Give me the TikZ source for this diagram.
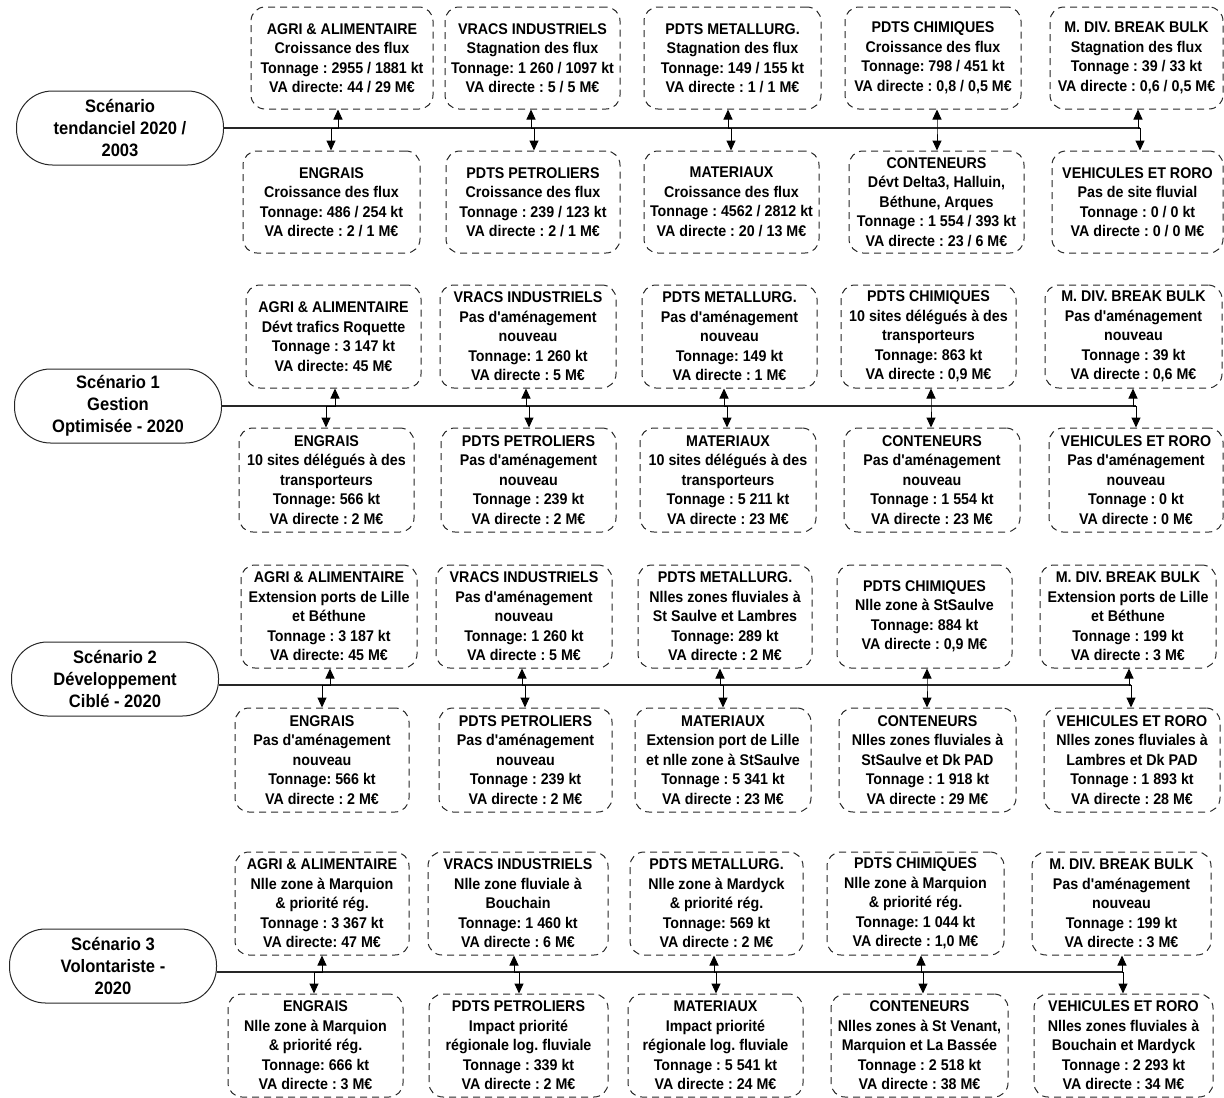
\documentclass[tikz,border=0pt]{standalone}
\usepackage{fontspec}
\setmainfont{Liberation Sans}[FakeStretch=0.92, Ligatures=TeXOff]
\usetikzlibrary{arrows.meta}
\tikzset{
  card/.style={draw=black!85, dashed, dash pattern=on 7pt off 5pt, line width=1pt,
    rounded corners=14pt, align=center, inner sep=0pt,
    font=\fontsize{15.5}{19.5}\selectfont\bfseries},
  scen/.style={draw=black!85, line width=1pt, rounded corners=36pt, align=center,
    inner sep=0pt, minimum width=207pt, minimum height=74pt,
    font=\fontsize{18}{22}\selectfont\bfseries},
  conn/.style={line width=1pt, {Triangle[length=10pt,width=9pt]}-{Triangle[length=10pt,width=9pt]}},
  mainline/.style={draw=black!85, line width=1.3pt}
}
\newcommand\mkcard[6]{\node[card, minimum width={#3-#2}, minimum height={#5-#4}] (#1) at ({(#2+#3)/2},{(#4+#5)/2}) {#6};}
\newcommand\mklink[5]{\draw[conn] (#1.south -| #3,0) -- (#3,#5) -- (#4,#5) -- (#2.north -| #4,0);}
\frenchspacing
\begin{document}
\begin{tikzpicture}[x=1pt,y=-1pt]
\useasboundingbox (0,0) rectangle (1224,1098);
% ---------------- Section 1
\node[scen] (s1) at (120,128) {Scénario\\tendanciel 2020 /\\2003};
\mkcard{a1}{251}{433}{7}{109}{AGRI \& ALIMENTAIRE\\Croissance des flux\\Tonnage : 2955 / 1881 kt\\VA directe: 44 / 29 M€}
\mkcard{a2}{445}{620}{7}{109}{VRACS INDUSTRIELS\\Stagnation des flux\\Tonnage: 1 260 / 1097 kt\\VA directe : 5 / 5 M€}
\mkcard{a3}{644}{821}{7}{109}{PDTS METALLURG.\\Stagnation des flux\\Tonnage: 149 / 155 kt\\VA directe : 1 / 1 M€}
\mkcard{a4}{845}{1021}{7}{109}{PDTS CHIMIQUES\\Croissance des flux\\Tonnage: 798 / 451 kt\\VA directe : 0,8 / 0,5 M€}
\mkcard{a5}{1050}{1223}{7}{109}{M. DIV. BREAK BULK\\Stagnation des flux\\Tonnage : 39 / 33 kt\\VA directe : 0,6 / 0,5 M€}
\mkcard{b1}{243}{420}{151}{253}{ENGRAIS\\Croissance des flux\\Tonnage: 486 / 254 kt\\VA directe : 2 / 1 M€}
\mkcard{b2}{446}{620}{151}{253}{PDTS PETROLIERS\\Croissance des flux\\Tonnage : 239 / 123 kt\\VA directe : 2 / 1 M€}
\mkcard{b3}{644}{819}{151}{253}{MATERIAUX\\Croissance des flux\\Tonnage : 4562 / 2812 kt\\VA directe : 20 / 13 M€}
\mkcard{b4}{849}{1024}{151}{253}{CONTENEURS\\Dévt Delta3, Halluin,\\Béthune, Arques\\Tonnage : 1 554 / 393 kt\\VA directe : 23 / 6 M€}
\mkcard{b5}{1052}{1223}{151}{253}{VEHICULES ET RORO\\Pas de site fluvial\\Tonnage : 0 / 0 kt\\VA directe : 0 / 0 M€}
\coordinate (e1) at (1140,128);
\draw[mainline] (s1.east |- e1) -- (e1);
\mklink{a1}{b1}{338}{331}{128}
\mklink{a2}{b2}{531}{534}{128}
\mklink{a3}{b3}{728}{731}{128}
\mklink{a4}{b4}{937}{937}{128}
\mklink{a5}{b5}{1138}{1140}{128}
% ---------------- Section 2
\node[scen] (s2) at (118,406) {Scénario 1\\Gestion\\Optimisée - 2020};
\mkcard{c1}{246}{421}{285}{388}{AGRI \& ALIMENTAIRE\\Dévt trafics Roquette\\Tonnage : 3 147 kt\\VA directe: 45 M€}
\mkcard{c2}{440}{616}{285}{388}{VRACS INDUSTRIELS\\Pas d'aménagement\\nouveau\\Tonnage: 1 260 kt\\VA directe : 5 M€}
\mkcard{c3}{642}{817}{285}{388}{PDTS METALLURG.\\Pas d'aménagement\\nouveau\\Tonnage: 149 kt\\VA directe : 1 M€}
\mkcard{c4}{841}{1016}{285}{388}{PDTS CHIMIQUES\\10 sites délégués à des\\transporteurs\\Tonnage: 863 kt\\VA directe : 0,9 M€}
\mkcard{c5}{1045}{1222}{285}{388}{M. DIV. BREAK BULK\\Pas d'aménagement\\nouveau\\Tonnage : 39 kt\\VA directe : 0,6 M€}
\mkcard{d1}{239}{414}{428}{532}{ENGRAIS\\10 sites délégués à des\\transporteurs\\Tonnage: 566 kt\\VA directe : 2 M€}
\mkcard{d2}{441}{616}{428}{532}{PDTS PETROLIERS\\Pas d'aménagement\\nouveau\\Tonnage : 239 kt\\VA directe : 2 M€}
\mkcard{d3}{640}{816}{428}{532}{MATERIAUX\\10 sites délégués à des\\transporteurs\\Tonnage : 5 211 kt\\VA directe : 23 M€}
\mkcard{d4}{844}{1020}{428}{532}{CONTENEURS\\Pas d'aménagement\\nouveau\\Tonnage : 1 554 kt\\VA directe : 23 M€}
\mkcard{d5}{1049}{1223}{428}{532}{VEHICULES ET RORO\\Pas d'aménagement\\nouveau\\Tonnage : 0 kt\\VA directe : 0 M€}
\coordinate (e2) at (1136,406);
\draw[mainline] (s2.east |- e2) -- (e2);
\mklink{c1}{d1}{335}{326}{406}
\mklink{c2}{d2}{526}{529}{406}
\mklink{c3}{d3}{724}{727}{406}
\mklink{c4}{d4}{931}{931}{406}
\mklink{c5}{d5}{1133}{1136}{406}
% ---------------- Section 3
\node[scen] (s3) at (115,679) {Scénario 2\\Développement\\Ciblé - 2020};
\mkcard{f1}{241}{417}{565}{668}{AGRI \& ALIMENTAIRE\\Extension ports de Lille\\et Béthune\\Tonnage : 3 187 kt\\VA directe: 45 M€}
\mkcard{f2}{436}{612}{565}{668}{VRACS INDUSTRIELS\\Pas d'aménagement\\nouveau\\Tonnage: 1 260 kt\\VA directe : 5 M€}
\mkcard{f3}{638}{812}{565}{668}{PDTS METALLURG.\\Nlles zones fluviales à\\St Saulve et Lambres\\Tonnage: 289 kt\\VA directe : 2 M€}
\mkcard{f4}{837}{1012}{565}{668}{PDTS CHIMIQUES\\Nlle zone à StSaulve\\Tonnage: 884 kt\\VA directe : 0,9 M€}
\mkcard{f5}{1040}{1216}{565}{668}{M. DIV. BREAK BULK\\Extension ports de Lille\\et Béthune\\Tonnage : 199 kt\\VA directe : 3 M€}
\mkcard{g1}{235}{409}{708}{812}{ENGRAIS\\Pas d'aménagement\\nouveau\\Tonnage: 566 kt\\VA directe : 2 M€}
\mkcard{g2}{439}{612}{708}{812}{PDTS PETROLIERS\\Pas d'aménagement\\nouveau\\Tonnage : 239 kt\\VA directe : 2 M€}
\mkcard{g3}{635}{811}{708}{812}{MATERIAUX\\Extension port de Lille\\et nlle zone à StSaulve\\Tonnage : 5 341 kt\\VA directe : 23 M€}
\mkcard{g4}{839}{1016}{708}{812}{CONTENEURS\\Nlles zones fluviales à\\StSaulve et Dk PAD\\Tonnage : 1 918 kt\\VA directe : 29 M€}
\mkcard{g5}{1044}{1220}{708}{812}{VEHICULES ET RORO\\Nlles zones fluviales à\\Lambres et Dk PAD\\Tonnage : 1 893 kt\\VA directe : 28 M€}
\coordinate (e3) at (1131,685);
\draw[mainline] (s3.east |- e3) -- (e3);
\mklink{f1}{g1}{330}{322}{685}
\mklink{f2}{g2}{522}{525}{685}
\mklink{f3}{g3}{720}{723}{685}
\mklink{f4}{g4}{927}{927}{685}
\mklink{f5}{g5}{1129}{1131}{685}
% ---------------- Section 4
\node[scen] (s4) at (113,966) {Scénario 3\\Volontariste -\\2020};
\mkcard{h1}{235}{409}{852}{955}{AGRI \& ALIMENTAIRE\\Nlle zone à Marquion\\\& priorité rég.\\Tonnage : 3 367 kt\\VA directe: 47 M€}
\mkcard{h2}{428}{608}{852}{955}{VRACS INDUSTRIELS\\Nlle zone fluviale à\\Bouchain\\Tonnage: 1 460 kt\\VA directe : 6 M€}
\mkcard{h3}{630}{803}{852}{955}{PDTS METALLURG.\\Nlle zone à Mardyck\\\& priorité rég.\\Tonnage: 569 kt\\VA directe : 2 M€}
\mkcard{h4}{827}{1004}{852}{955}{PDTS CHIMIQUES\\Nlle zone à Marquion\\\& priorité rég.\\Tonnage: 1 044 kt\\VA directe : 1,0 M€}
\mkcard{h5}{1032}{1211}{852}{955}{M. DIV. BREAK BULK\\Pas d'aménagement\\nouveau\\Tonnage : 199 kt\\VA directe : 3 M€}
\mkcard{k1}{228}{403}{994}{1097}{ENGRAIS\\Nlle zone à Marquion\\\& priorité rég.\\Tonnage: 666 kt\\VA directe : 3 M€}
\mkcard{k2}{429}{608}{994}{1097}{PDTS PETROLIERS\\Impact priorité\\régionale log. fluviale\\Tonnage : 339 kt\\VA directe : 2 M€}
\mkcard{k3}{628}{803}{994}{1097}{MATERIAUX\\Impact priorité\\régionale log. fluviale\\Tonnage : 5 541 kt\\VA directe : 24 M€}
\mkcard{k4}{831}{1008}{994}{1097}{CONTENEURS\\Nlles zones à St Venant,\\Marquion et La Bassée\\Tonnage : 2 518 kt\\VA directe : 38 M€}
\mkcard{k5}{1034}{1213}{994}{1097}{VEHICULES ET RORO\\Nlles zones fluviales à\\Bouchain et Mardyck\\Tonnage : 2 293 kt\\VA directe : 34 M€}
\coordinate (e4) at (1123,972);
\draw[mainline] (s4.east |- e4) -- (e4);
\mklink{h1}{k1}{322}{314}{972}
\mklink{h2}{k2}{514}{519}{972}
\mklink{h3}{k3}{714}{716}{972}
\mklink{h4}{k4}{921}{923}{972}
\mklink{h5}{k5}{1122}{1123}{972}
\end{tikzpicture}
\end{document}
